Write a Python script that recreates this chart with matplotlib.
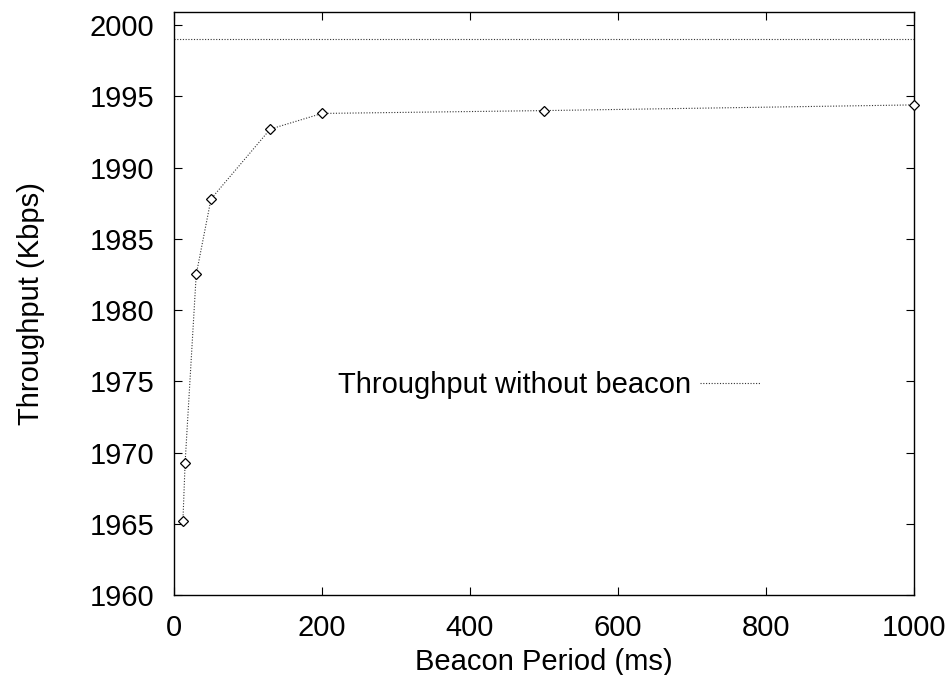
import matplotlib
matplotlib.use('Agg')
from matplotlib import pyplot as plt

plt.rcParams['font.family'] = ['Liberation Sans', 'DejaVu Sans']

period = [12, 15, 30, 50, 130, 200, 500, 1000]
throughput = [1965.2, 1969.3, 1982.5, 1987.8, 1992.7, 1993.8, 1994.0, 1994.4]
no_beacon = 1999.0

fs = 21
fig = plt.figure(figsize=(9.51, 6.75), dpi=100)
ax = fig.add_axes([0.183, 0.1185, 0.778, 0.8633])

ax.plot(period, throughput, color='#333333', linestyle=(0, (1, 1.5)), linewidth=0.8,
        marker='D', markersize=5, markerfacecolor='white', markeredgecolor='black',
        markeredgewidth=0.9, clip_on=False, zorder=3)
ax.axhline(no_beacon, color='#333333', linestyle=(0, (1, 1.5)), linewidth=0.8,
           label='Throughput without beacon')

ax.set_xlim(0, 1000)
ax.set_ylim(1960, 2000.9)
ax.set_xticks([0, 200, 400, 600, 800, 1000])
ax.set_yticks(range(1960, 2001, 5))
ax.tick_params(direction='in', top=True, right=True, labelsize=fs, length=5.5, width=0.8)
ax.tick_params(axis='y', pad=14)
ax.tick_params(axis='x', pad=14)
for s in ax.spines.values():
    s.set_linewidth(1.0)

ax.set_xlabel('Beacon Period (ms)', fontsize=fs, labelpad=4)
ax.set_ylabel('Throughput (Kbps)', fontsize=fs, labelpad=32)

ax.legend(loc='center', bbox_to_anchor=(0.507, 0.36), frameon=False, markerfirst=False,
          fontsize=fs, handlelength=2.05, handletextpad=0.3)

plt.savefig('out.png', dpi=100)
